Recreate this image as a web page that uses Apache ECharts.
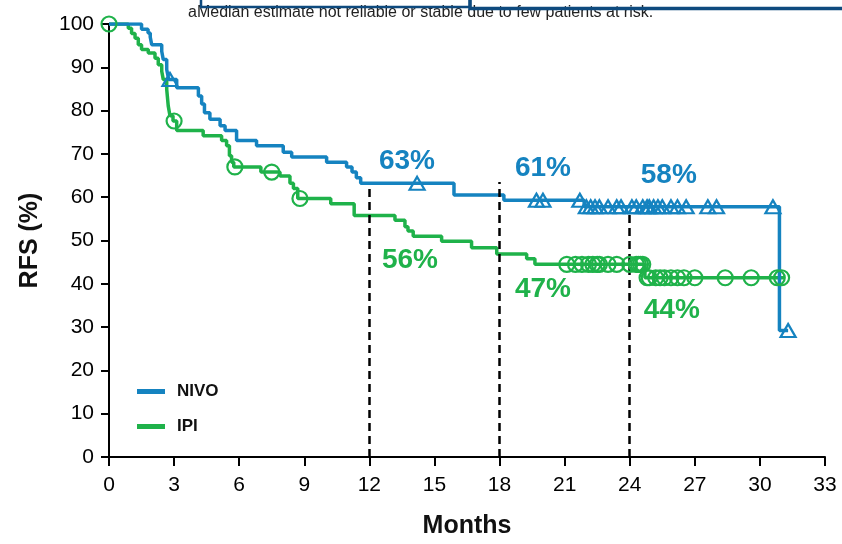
<!DOCTYPE html>
<html>
<head>
<meta charset="utf-8">
<script src="https://cdn.jsdelivr.net/npm/echarts@6/dist/echarts.min.js"></script>
<style>
html,body{margin:0;padding:0;background:#fff;}
#chart{width:842px;height:544px;}
</style>
</head>
<body>
<div id="chart"></div>
<script>
// ---- data ----
const xTicks = [0, 3, 6, 9, 12, 15, 18, 21, 24, 27, 30, 33];
const yTicks = [0, 10, 20, 30, 40, 50, 60, 70, 80, 90, 100];

const nivoTimes = [0, 1.5, 1.8, 1.9, 1.97, 2.43, 2.5, 2.66, 2.75, 3.12, 4.12, 4.27, 4.4, 4.65, 5.12, 5.35, 5.88, 6.8, 8.03, 8.42, 10.03, 10.95, 11.2, 11.4, 11.6, 15.9, 18.2, 21.9, 30.9, 31.3];
const nivoRFS   = [100, 98.8, 97.9, 97.0, 95.2, 93.7, 91.8, 89.5, 87.2, 85.3, 83.4, 81.5, 79.5, 78.0, 76.5, 75.4, 73.1, 71.9, 70.4, 69.3, 68.1, 67.0, 65.8, 64.5, 63.2, 60.5, 59.3, 57.8, 29.2, 29.2];

const ipiTimes = [0, 0.89, 1.04, 1.2, 1.35, 1.5, 1.81, 2.12, 2.27, 2.43, 2.5, 2.66, 2.73, 2.81, 2.95, 3.12, 4.34, 5.19, 5.42, 5.55, 5.65, 5.75, 7.0, 7.88, 8.34, 8.5, 8.7, 10.22, 11.3, 13.18, 13.64, 13.78, 14.02, 15.33, 16.71, 17.87, 19.25, 19.63, 24.7, 31.15];
const ipiRFS   = [100, 99.0, 97.8, 96.7, 95.2, 94.1, 93.3, 92.1, 90.6, 89.1, 87.2, 84.9, 81.1, 78.8, 77.6, 75.4, 74.2, 73.1, 71.9, 69.6, 68.1, 67.0, 65.8, 64.9, 63.2, 62.0, 59.7, 58.5, 55.8, 54.7, 53.2, 52.2, 51.0, 49.8, 48.3, 46.9, 45.8, 44.5, 41.4, 41.4];

const nivoCensorTimes = [2.81, 14.2, 19.7, 20.0, 21.7, 22.0, 22.2, 22.4, 22.6, 23.0, 23.4, 23.6, 24.1, 24.3, 24.6, 24.8, 24.9, 25.1, 25.3, 25.5, 25.9, 26.2, 26.6, 27.6, 28.0, 30.6, 31.3];
const nivoCensorRFS   = [87.2, 63.2, 59.3, 59.3, 59.3, 57.8, 57.8, 57.8, 57.8, 57.8, 57.8, 57.8, 57.8, 57.8, 57.8, 57.8, 57.8, 57.8, 57.8, 57.8, 57.8, 57.8, 57.8, 57.8, 57.8, 57.8, 29.2];

const ipiCensorTimes = [0, 3.0, 5.8, 7.5, 8.8, 21.1, 21.5, 21.8, 22.1, 22.3, 22.5, 22.6, 23.0, 23.4, 24.0, 24.3, 24.4, 24.5, 24.6, 24.8, 24.9, 25.2, 25.4, 25.6, 25.9, 26.2, 26.5, 27.0, 28.4, 29.6, 30.8, 31.0];
const ipiCensorRFS   = [100, 77.6, 67.0, 65.8, 59.7, 44.5, 44.5, 44.5, 44.5, 44.5, 44.5, 44.5, 44.5, 44.5, 44.5, 44.5, 44.5, 44.5, 44.5, 41.4, 41.4, 41.4, 41.4, 41.4, 41.4, 41.4, 41.4, 41.4, 41.4, 41.4, 41.4, 41.4];

const landmarkMonths = [12, 18, 24];
const landmarkTops   = [63, 63.5, 57];

const nivoPctText = ['63%', '61%', '58%'];
const nivoPctX    = [13.73, 20.0, 25.8];
const nivoPctY    = [68.2, 66.6, 65.0];
const ipiPctText  = ['56%', '47%', '44%'];
const ipiPctX     = [13.87, 20.0, 25.94];
const ipiPctY     = [45.5, 38.7, 33.9];

const seriesNames = ['NIVO', 'IPI'];
const footnote = 'aMedian estimate not reliable or stable due to few patients at risk.';

// ---- styles ----
const BLUE = '#1583c0';
const GREEN = '#1fb24a';
const NAVY = '#0e4a7e';
const FONT = 'Liberation Sans, Arial, sans-serif';

const zip = (a, b) => a.map((v, i) => [v, b[i]]);

const chart = echarts.init(document.getElementById('chart'), null, {renderer: 'canvas'});

const option = {
  animation: false,
  backgroundColor: '#fff',
  textStyle: {fontFamily: FONT},
  grid: {left: 109, right: 17, top: 24, bottom: 83, containLabel: false},
  legend: {
    data: seriesNames,
    orient: 'vertical',
    left: 132,
    top: 378,
    icon: 'rect',
    itemWidth: 28,
    itemHeight: 5,
    itemGap: 18,
    textStyle: {fontFamily: FONT, fontWeight: 'bold', fontSize: 17, color: '#111', padding: [0, 0, 0, 7]}
  },
  xAxis: {
    type: 'value', min: 0, max: 33, interval: 3,
    name: 'Months', nameLocation: 'middle', nameGap: 57,
    nameTextStyle: {fontFamily: FONT, fontWeight: 'bold', fontSize: 25, color: '#111'},
    axisLine: {lineStyle: {color: '#000', width: 2}},
    axisTick: {show: true, length: 9, lineStyle: {color: '#000', width: 2}},
    axisLabel: {fontSize: 21, color: '#000', margin: 18, fontFamily: FONT,
      formatter: v => xTicks.includes(v) ? String(v) : ''},
    splitLine: {show: false}
  },
  yAxis: {
    type: 'value', min: 0, max: 100, interval: 10,
    name: 'RFS (%)', nameLocation: 'middle', nameGap: 66,
    nameTextStyle: {fontFamily: FONT, fontWeight: 'bold', fontSize: 25, color: '#111'},
    axisLine: {show: true, lineStyle: {color: '#000', width: 2}},
    axisTick: {show: true, length: 8, lineStyle: {color: '#000', width: 2}},
    axisLabel: {fontSize: 21, color: '#000', margin: 15, fontFamily: FONT,
      formatter: v => yTicks.includes(v) ? String(v) : ''},
    splitLine: {show: false}
  },
  series: [
    {
      name: 'landmarks', type: 'line', data: [], silent: true,
      markLine: {
        silent: true, symbol: ['none', 'none'], label: {show: false},
        lineStyle: {color: '#000', width: 2.5, type: [8, 5], opacity: 1},
        data: landmarkMonths.map((m, i) => [{coord: [m, 0]}, {coord: [m, landmarkTops[i]]}])
      }
    },
    {
      name: 'IPI', type: 'line', step: 'end', symbol: 'none', z: 3,
      color: GREEN, lineStyle: {color: GREEN, width: 3.5},
      data: zip(ipiTimes, ipiRFS)
    },
    {
      name: 'NIVO', type: 'line', step: 'end', symbol: 'none', z: 4,
      color: BLUE, lineStyle: {color: BLUE, width: 3.5},
      data: zip(nivoTimes, nivoRFS)
    },
    {
      name: 'IPI censored', type: 'scatter', symbol: 'circle', symbolSize: 15, z: 5,
      itemStyle: {color: 'rgba(0,0,0,0)', borderColor: GREEN, borderWidth: 2.2, opacity: 1},
      data: zip(ipiCensorTimes, ipiCensorRFS)
    },
    {
      name: 'NIVO censored', type: 'scatter', symbol: 'triangle', symbolSize: [15, 13], z: 6,
      itemStyle: {color: 'rgba(0,0,0,0)', borderColor: BLUE, borderWidth: 2.2, opacity: 1},
      data: zip(nivoCensorTimes, nivoCensorRFS)
    },
    {
      name: 'NIVO pct', type: 'scatter', symbolSize: 0, z: 7, silent: true,
      itemStyle: {opacity: 1},
      label: {show: true, position: 'inside', color: BLUE, fontFamily: FONT, fontWeight: 'bold', fontSize: 28,
        formatter: p => nivoPctText[p.dataIndex]},
      data: zip(nivoPctX, nivoPctY)
    },
    {
      name: 'IPI pct', type: 'scatter', symbolSize: 0, z: 7, silent: true,
      itemStyle: {opacity: 1},
      label: {show: true, position: 'inside', color: GREEN, fontFamily: FONT, fontWeight: 'bold', fontSize: 28,
        formatter: p => ipiPctText[p.dataIndex]},
      data: zip(ipiPctX, ipiPctY)
    }
  ],
  graphic: [
    {type: 'text', left: 188, top: 5, z: 1,
      style: {text: footnote, fill: '#222', font: '16px ' + FONT}},
    {type: 'rect', shape: {x: 201, y: -10, width: 269, height: 17}, z: 10,
      style: {fill: 'rgba(0,0,0,0)', stroke: NAVY, lineWidth: 2.5}},
    {type: 'rect', shape: {x: 470, y: -10, width: 380, height: 18.5}, z: 10,
      style: {fill: 'rgba(0,0,0,0)', stroke: NAVY, lineWidth: 3.5}}
  ]
};

chart.setOption(option);
</script>
</body>
</html>
